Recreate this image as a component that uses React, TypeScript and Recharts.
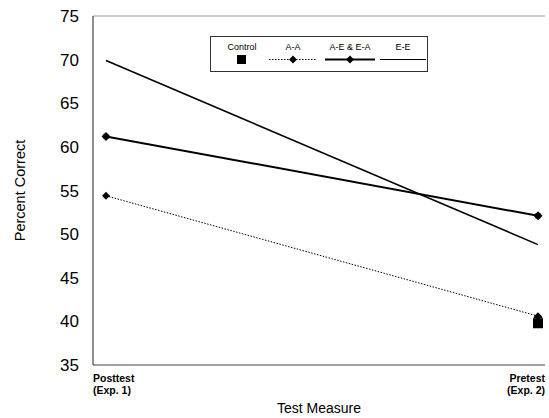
import React from 'react';
import { LineChart, Line, XAxis, YAxis, Legend, ReferenceLine } from 'recharts';

const categories = ['Posttest|(Exp. 1)', 'Pretest|(Exp. 2)'];
const controlValues = [null, 39.9];
const aaValues = [54.4, 40.6];
const aeeaValues = [61.2, 52.1];
const eeValues = [69.9, 48.8];
const yTicks = [35, 40, 45, 50, 55, 60, 65, 70, 75];

const data = categories.map((c, i) => ({
  name: c,
  control: controlValues[i],
  aa: aaValues[i],
  aeea: aeeaValues[i],
  ee: eeValues[i],
}));

const FONT = 'Arial, "Liberation Sans", sans-serif';

const Diamond = (props: any) => {
  const { cx, cy, r = 4 } = props;
  if (cx == null || cy == null) return null;
  return <path d={`M${cx},${cy - r} L${cx + r},${cy} L${cx},${cy + r} L${cx - r},${cy} Z`} fill="#000" />;
};

const Star = (props: any) => {
  const { cx, cy } = props;
  if (cx == null || cy == null) return null;
  return (
    <g fill="#000">
      <path d={`M${cx},${cy - 4.5} L${cx + 4.5},${cy} L${cx},${cy + 4.5} L${cx - 4.5},${cy} Z`} />
      <rect x={cx - 2.5} y={cy - 2.5} width={5} height={5} />
    </g>
  );
};

const Square = (props: any) => {
  const { cx, cy, value } = props;
  if (cx == null || cy == null || value == null) return null;
  return (
    <g fill="#000">
      <rect x={cx - 5} y={cy - 4} width={10} height={10} />
      <path d={`M${cx - 5},${cy - 4} L${cx},${cy - 9} L${cx + 5},${cy - 4} Z`} />
    </g>
  );
};

const XTick = (props: any) => {
  const { x, y, payload, index } = props;
  const lines = String(payload.value).split('|');
  const anchor = index === 0 ? 'start' : 'end';
  const dx = index === 0 ? -13 : 7;
  return (
    <text x={x + dx} y={y} textAnchor={anchor} fontFamily={FONT} fontSize={10.5} fontWeight="bold" fill="#000">
      {lines.map((l, i) => (
        <tspan key={i} x={x + dx} dy={i === 0 ? 9 : 12}>{l}</tspan>
      ))}
    </text>
  );
};

const legendItems = [
  { label: 'Control', cx: 32, kind: 'square' },
  { label: 'A-A', cx: 83, kind: 'dotted' },
  { label: 'A-E & E-A', cx: 140, kind: 'thick' },
  { label: 'E-E', cx: 193, kind: 'thin' },
];

const LegendBox = () => (
  <svg width={218} height={36} style={{ display: 'block' }}>
    <rect x={0.5} y={0.5} width={217} height={35} fill="#fff" stroke="#333" strokeWidth={1} />
    {legendItems.map((it) => (
      <g key={it.label}>
        <text x={it.cx} y={14} textAnchor="middle" fontFamily={FONT} fontSize={9} fill="#000">{it.label}</text>
        {it.kind === 'square' && <rect x={it.cx - 5} y={19} width={9} height={9} fill="#000" />}
        {it.kind === 'dotted' && (
          <g>
            <line x1={it.cx - 24} y1={23.5} x2={it.cx + 24} y2={23.5} stroke="#000" strokeWidth={1} strokeDasharray="1.5 1.5" />
            <Diamond cx={it.cx} cy={23.5} r={4} />
          </g>
        )}
        {it.kind === 'thick' && (
          <g>
            <line x1={it.cx - 25} y1={23.5} x2={it.cx + 25} y2={23.5} stroke="#000" strokeWidth={2} />
            <Diamond cx={it.cx} cy={23.5} r={4} />
          </g>
        )}
        {it.kind === 'thin' && (
          <line x1={it.cx - 23} y1={23.5} x2={it.cx + 23} y2={23.5} stroke="#000" strokeWidth={1.2} />
        )}
      </g>
    ))}
  </svg>
);

export default function App() {
  return (
    <div style={{ position: 'absolute', left: 0, top: 0, background: '#fff' }}>
      <LineChart width={549} height={418} data={data} margin={{ top: 16, right: 4, bottom: 0, left: 0 }}>
        <XAxis
          dataKey="name"
          height={53}
          padding={{ left: 13, right: 7 }}
          tickLine={false}
          tick={<XTick />}
          interval={0}
          axisLine={{ stroke: '#444', strokeWidth: 1.2 }}
          label={{ value: 'Test Measure', position: 'insideBottom', offset: 5, fontFamily: FONT, fontSize: 14, fill: '#000' }}
        />
        <YAxis
          width={93}
          domain={[35, 75]}
          ticks={yTicks}
          interval={0}
          tickLine={false}
          axisLine={{ stroke: '#444', strokeWidth: 1.2 }}
          tick={{ fontFamily: FONT, fontSize: 17, fill: '#000' }}
          tickMargin={8}
          label={{ value: 'Percent Correct', angle: -90, position: 'insideLeft', offset: 20, style: { textAnchor: 'middle' }, fontFamily: FONT, fontSize: 14.5, fill: '#000' }}
        />
        <ReferenceLine y={75} stroke="#999" strokeWidth={1} />
        <Legend content={<LegendBox />} wrapperStyle={{ left: 210, top: 36, width: 218, height: 36 }} verticalAlign="middle" align="center" />
        <Line dataKey="ee" stroke="#000" strokeWidth={1.5} dot={false} isAnimationActive={false} />
        <Line dataKey="aeea" stroke="#000" strokeWidth={2} dot={<Star />} isAnimationActive={false} />
        <Line dataKey="aa" stroke="#000" strokeWidth={1} strokeDasharray="1.5 1.5" dot={<Diamond r={4} />} isAnimationActive={false} />
        <Line dataKey="control" stroke="none" dot={<Square />} isAnimationActive={false} />
      </LineChart>
    </div>
  );
}
